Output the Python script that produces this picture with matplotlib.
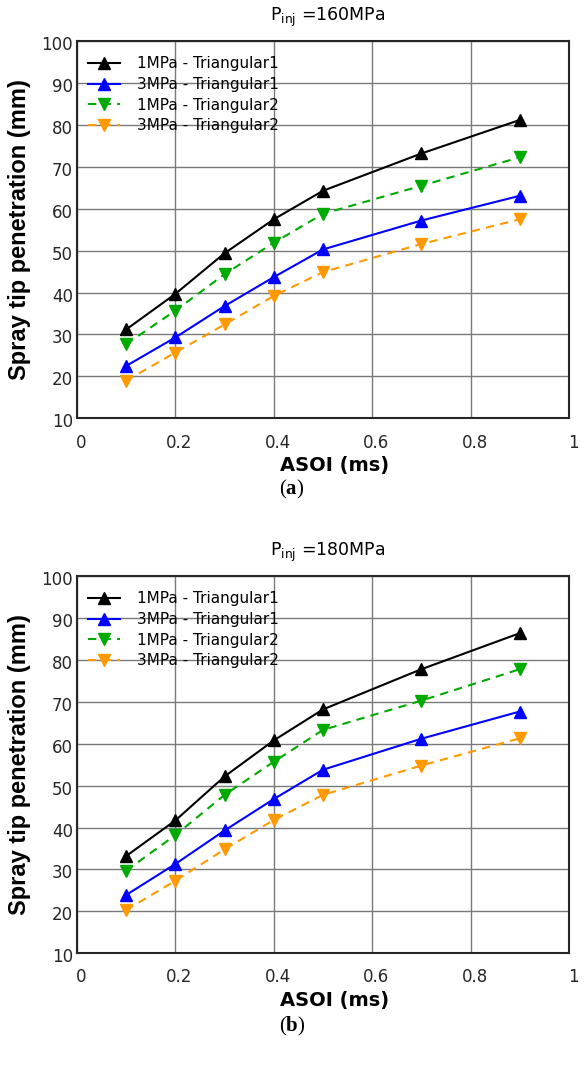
import matplotlib
matplotlib.use("Agg")
import matplotlib.pyplot as plt
from matplotlib.transforms import ScaledTranslation

plt.rcParams['font.family'] = ['DejaVu Sans']
plt.rcParams['mathtext.fontset'] = 'custom'
plt.rcParams['mathtext.rm'] = 'DejaVu Sans'
plt.rcParams['mathtext.it'] = 'DejaVu Sans:italic'
plt.rcParams['mathtext.bf'] = 'Liberation Serif:bold'

asoi = [0.1, 0.2, 0.3, 0.4, 0.5, 0.7, 0.9]
labels = ["1MPa - Triangular1", "3MPa - Triangular1", "1MPa - Triangular2", "3MPa - Triangular2"]

# Panel (a): Pinj = 160 MPa
a_1mpa_tri1 = [31.2, 39.7, 49.4, 57.5, 64.3, 73.2, 81.2]
a_3mpa_tri1 = [22.5, 29.3, 36.8, 43.7, 50.3, 57.2, 63.1]
a_1mpa_tri2 = [27.7, 35.7, 44.4, 51.9, 58.8, 65.5, 72.3]
a_3mpa_tri2 = [19.0, 25.7, 32.4, 39.2, 44.9, 51.6, 57.5]

# Panel (b): Pinj = 180 MPa
b_1mpa_tri1 = [33.2, 41.7, 52.2, 60.8, 68.2, 77.8, 86.4]
b_3mpa_tri1 = [23.9, 31.3, 39.3, 46.8, 53.8, 61.2, 67.7]
b_1mpa_tri2 = [29.7, 38.2, 47.8, 55.7, 63.3, 70.3, 77.8]
b_3mpa_tri2 = [20.3, 27.3, 34.8, 41.8, 47.8, 54.8, 61.3]

titles = [r"P$_{\mathrm{inj}}$ =160MPa", r"P$_{\mathrm{inj}}$ =180MPa"]
panel_tags = ["a", "b"]
xticks = [0, 0.2, 0.4, 0.6, 0.8, 1]
xticklabels = ["0", "0.2", "0.4", "0.6", "0.8", "1"]
yticks = [10, 20, 30, 40, 50, 60, 70, 80, 90, 100]

styles = [
    dict(color='black', linestyle='-', marker='^'),
    dict(color='#0000ff', linestyle='-', marker='^'),
    dict(color='#00aa00', linestyle=(0, (4, 3)), marker='v'),
    dict(color='#ff9900', linestyle=(0, (4, 3)), marker='v'),
]

fig = plt.figure(figsize=(5.84, 10.74), dpi=100)
W, H = 584, 1074
axes_px = [(77, 41.2, 569, 418.3), (77, 576.2, 569, 953.2)]
data = [[a_1mpa_tri1, a_3mpa_tri1, a_1mpa_tri2, a_3mpa_tri2],
        [b_1mpa_tri1, b_3mpa_tri1, b_1mpa_tri2, b_3mpa_tri2]]
tag_y = [489, 1026]

for i, (l, t, r, b) in enumerate(axes_px):
    ax = fig.add_axes([l / W, 1 - b / H, (r - l) / W, (b - t) / H])
    for series, st, lab in zip(data[i], styles, labels):
        ax.plot(asoi, series, label=lab, color=st['color'], linestyle=st['linestyle'],
                marker=st['marker'], markersize=9, linewidth=1.5,
                markerfacecolor=st['color'], markeredgecolor=st['color'])
    ax.set_xlim(0, 1)
    ax.set_ylim(10, 100)
    ax.set_xticks(xticks)
    ax.set_xticklabels(xticklabels)
    ax.set_yticks(yticks)
    ax.grid(True, color='#7a7a7a', linewidth=1.0)
    ax.set_axisbelow(True)
    ax.tick_params(direction='in', length=0, labelsize=12, colors='#262626')
    ax.tick_params(axis='x', pad=11)
    ax.tick_params(axis='y', pad=3)
    for lbl in ax.get_xticklabels():
        lbl.set_transform(lbl.get_transform() + ScaledTranslation(4 / 100, 0, fig.dpi_scale_trans))
    for lbl in ax.get_yticklabels():
        lbl.set_transform(lbl.get_transform() + ScaledTranslation(0, -2 / 100, fig.dpi_scale_trans))
    for s in ax.spines.values():
        s.set_color('#262626')
        s.set_linewidth(1.5)
    ax.set_xlabel("ASOI (ms)", fontsize=14, fontweight='bold', labelpad=3)
    ax.xaxis.label.set_x(0.523)
    ax.set_ylabel("Spray tip penetration (mm)", fontsize=17, fontweight='bold',
                  family='Liberation Sans', labelpad=7)
    ax.set_title(titles[i], fontsize=12.5, pad=14.5, x=0.51)
    ax.legend(loc='upper left', frameon=False, fontsize=11, handlelength=2.1,
              handletextpad=1.1, labelspacing=0.37, borderpad=0.4, borderaxespad=0.32,
              bbox_to_anchor=(0.0, 1.0 - 4 / 377))
    fig.text(292 / W, 1 - tag_y[i] / H, "(" + r"$\mathbf{" + panel_tags[i] + "}$" + ")",
             fontsize=15, family='Liberation Serif', ha='center', va='center')

fig.savefig("out.png", dpi=100)
